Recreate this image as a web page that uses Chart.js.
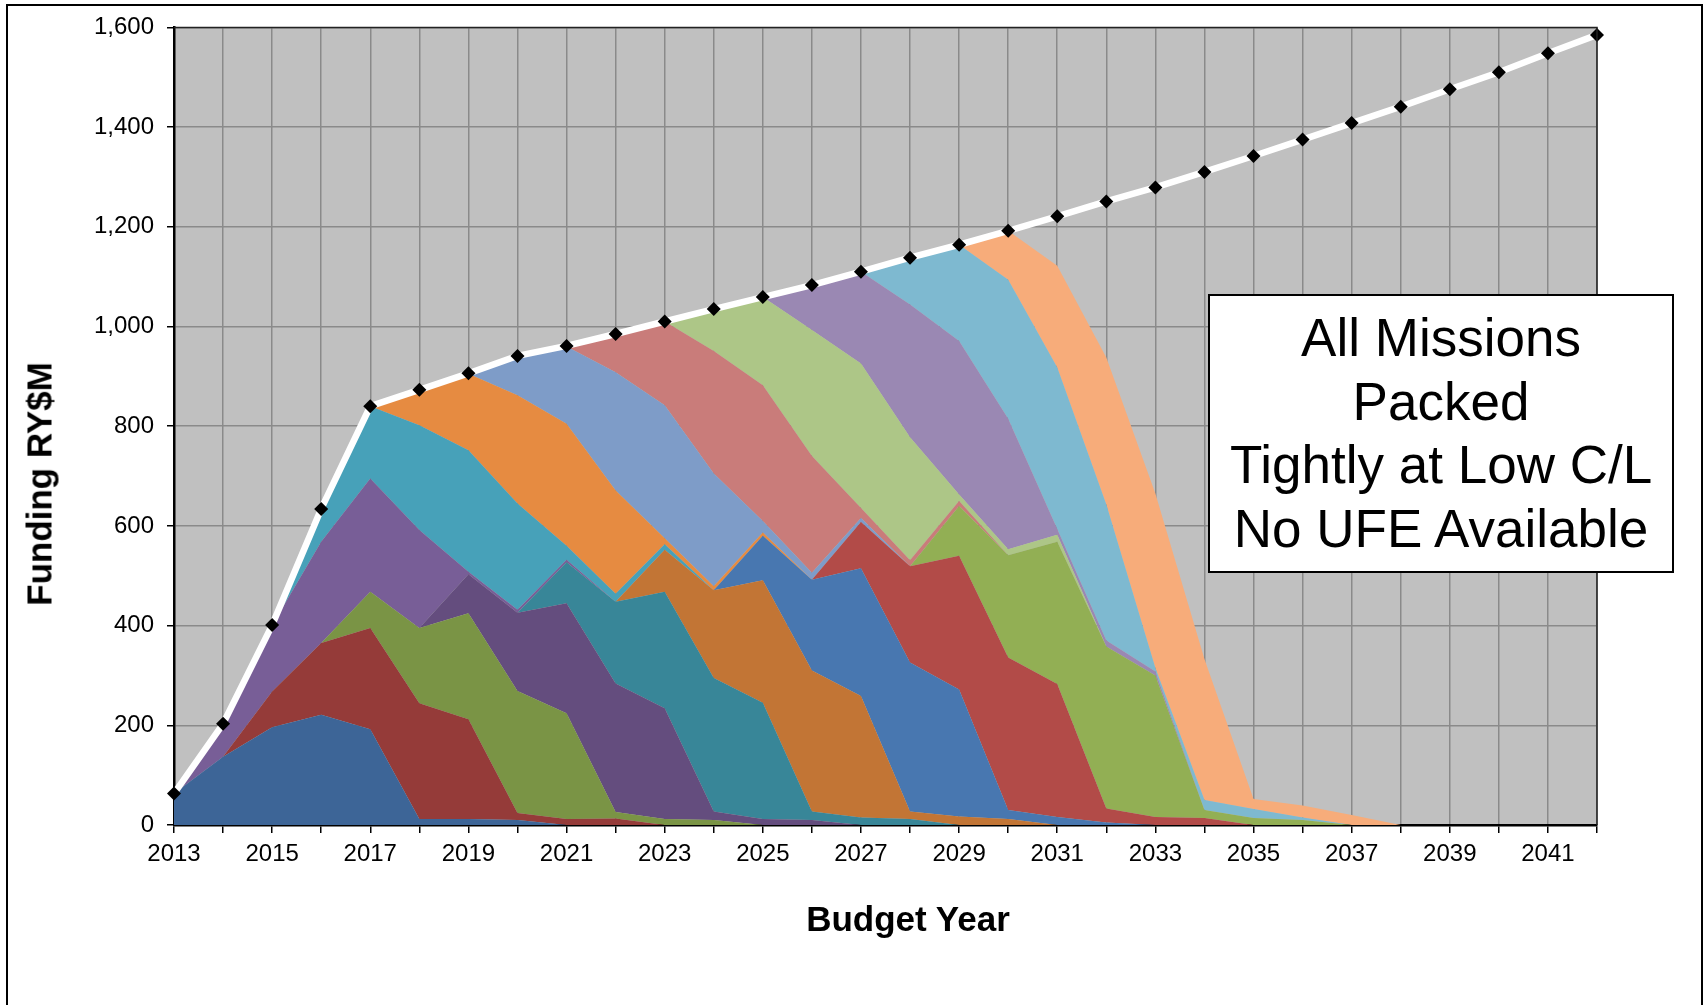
<!DOCTYPE html>
<html>
<head>
<meta charset="utf-8">
<title>Funding by Budget Year</title>
<script src="https://cdn.jsdelivr.net/npm/chart.js@4.4.1/dist/chart.umd.min.js"></script>
<style>
  html, body { margin: 0; padding: 0; width: 1705px; height: 1005px; overflow: hidden; background: #fff; }
  body { position: relative; font-family: "Liberation Sans", Arial, sans-serif; color: #000; }
  #frame { position: absolute; left: 6px; top: 4px; width: 1697px; height: 1100px; border: 2px solid #000; box-sizing: border-box; }
  #chart { position: absolute; left: 0; top: 0; }
  .axis-title { position: absolute; font-weight: bold; font-size: 35px; line-height: 35px; white-space: nowrap; }
  #xTitle { left: 908px; top: 901px; transform: translateX(-50%); }
  #yTitle { left: 39px; top: 484px; transform: translate(-50%, -50%) rotate(-90deg); }
  #note { position: absolute; left: 1208px; top: 294px; width: 466px; height: 279px; box-sizing: border-box;
          border: 2px solid #000; background: #fff; text-align: center; font-size: 53px; line-height: 63.5px; padding-top: 10px; }
</style>
</head>
<body>
<div id="frame"></div>
<canvas id="chart" width="1705" height="1005"></canvas>
<div class="axis-title" id="xTitle">Budget Year</div>
<div class="axis-title" id="yTitle">Funding RY$M</div>
<div id="note">All Missions<br>Packed<br>Tightly at Low C/L<br>No UFE Available</div>

<script>
// Budget years on the horizontal axis
const years = [];
for (let y = 2013; y <= 2042; y++) years.push(String(y));

// Funding ceiling per year (RY$M)
const budgetLine = [63, 203, 401, 634, 840, 873, 906, 941, 961, 985, 1010, 1035, 1059, 1083, 1110,
                    1138, 1164, 1192, 1221, 1251, 1279, 1310, 1342, 1375, 1408, 1441, 1476, 1510, 1548, 1585];

// Mission funding profiles, 2013..2042 (RY$M), listed bottom of the stack first
const mission01 = [63, 137, 196, 221, 192, 12, 12, 10, 0, 0, 0, 0, 0, 0, 0, 0, 0, 0, 0, 0, 0, 0, 0, 0, 0, 0, 0, 0, 0, 0];
const mission02 = [0, 0, 72, 144, 203, 232, 200, 14, 12, 13, 0, 0, 0, 0, 0, 0, 0, 0, 0, 0, 0, 0, 0, 0, 0, 0, 0, 0, 0, 0];
const mission03 = [0, 0, 0, 0, 73, 151, 213, 245, 212, 13, 12, 10, 0, 0, 0, 0, 0, 0, 0, 0, 0, 0, 0, 0, 0, 0, 0, 0, 0, 0];
const mission04 = [0, 0, 0, 0, 0, 0, 78, 157, 221, 258, 222, 17, 12, 10, 0, 0, 0, 0, 0, 0, 0, 0, 0, 0, 0, 0, 0, 0, 0, 0];
const mission05 = [0, 0, 0, 0, 0, 0, 0, 0, 82, 164, 234, 268, 233, 17, 15, 12, 0, 0, 0, 0, 0, 0, 0, 0, 0, 0, 0, 0, 0, 0];
const mission06 = [0, 0, 0, 0, 0, 0, 0, 0, 0, 0, 84, 176, 246, 283, 244, 15, 17, 12, 0, 0, 0, 0, 0, 0, 0, 0, 0, 0, 0, 0];
const mission07 = [0, 0, 0, 0, 0, 0, 0, 0, 0, 0, 0, 0, 89, 182, 256, 299, 255, 18, 16, 5, 0, 0, 0, 0, 0, 0, 0, 0, 0, 0];
const mission08 = [0, 0, 0, 0, 0, 0, 0, 0, 0, 0, 0, 0, 0, 0, 93, 193, 268, 306, 267, 28, 16, 14, 0, 0, 0, 0, 0, 0, 0, 0];
const mission09 = [0, 0, 0, 0, 0, 0, 0, 0, 0, 0, 0, 0, 0, 0, 0, 0, 100, 205, 285, 325, 284, 16, 14, 10, 0, 0, 0, 0, 0, 0];
const mission10 = [0, 63, 132, 203, 227, 197, 5, 6, 5, 0, 0, 0, 0, 0, 0, 0, 0, 0, 0, 0, 0, 0, 0, 0, 0, 0, 0, 0, 0, 0];
const mission11 = [0, 0, 0, 66, 145, 210, 244, 213, 28, 16, 11, 0, 0, 0, 0, 0, 0, 0, 0, 0, 0, 0, 0, 0, 0, 0, 0, 0, 0, 0];
const mission12 = [0, 0, 0, 0, 0, 70, 153, 217, 245, 207, 12, 8, 7, 0, 0, 0, 0, 0, 0, 0, 0, 0, 0, 0, 0, 0, 0, 0, 0, 0];
const mission13 = [0, 0, 0, 0, 0, 0, 0, 78, 155, 237, 267, 226, 23, 14, 8, 0, 0, 0, 0, 0, 0, 0, 0, 0, 0, 0, 0, 0, 0, 0];
const mission14 = [0, 0, 0, 0, 0, 0, 0, 0, 0, 77, 168, 246, 272, 234, 20, 12, 10, 0, 0, 0, 0, 0, 0, 0, 0, 0, 0, 0, 0, 0];
const mission15 = [0, 0, 0, 0, 0, 0, 0, 0, 0, 0, 0, 84, 177, 253, 290, 247, 13, 12, 14, 0, 0, 0, 0, 0, 0, 0, 0, 0, 0, 0];
const mission16 = [0, 0, 0, 0, 0, 0, 0, 0, 0, 0, 0, 0, 0, 90, 184, 266, 308, 262, 12, 12, 8, 0, 0, 0, 0, 0, 0, 0, 0, 0];
const mission17 = [0, 0, 0, 0, 0, 0, 0, 0, 0, 0, 0, 0, 0, 0, 0, 94, 193, 279, 324, 273, 7, 20, 18, 5, 0, 0, 0, 0, 0, 0];
const mission18 = [0, 0, 0, 0, 0, 0, 0, 0, 0, 0, 0, 0, 0, 0, 0, 0, 0, 98, 204, 295, 350, 283, 20, 24, 20, 0, 0, 0, 0, 0];

const missionSeries = [mission01, mission02, mission03, mission04, mission05, mission06, mission07, mission08, mission09,
                       mission10, mission11, mission12, mission13, mission14, mission15, mission16, mission17, mission18];
const missionColors = ['#3d6597', '#953b39', '#7a9445', '#644d7e', '#388698', '#c27535', '#4877b0', '#b24b48', '#92af54',
                       '#785e97', '#47a1b9', '#e68b41', '#7e9cc8', '#c97c7a', '#adc687', '#9a88b3', '#7eb9d0', '#f7ac7a'];

Chart.defaults.font.family = "'Liberation Sans', Arial, sans-serif";
Chart.defaults.color = '#000';

const datasets = missionSeries.map((values, i) => ({
  label: 'Mission ' + (i + 1),
  data: values,
  backgroundColor: missionColors[i],
  borderColor: missionColors[i],
  borderWidth: 0,
  pointRadius: 0,
  fill: i === 0 ? 'origin' : '-1',
  tension: 0,
  stack: 'missions'
}));

datasets.push({
  label: 'Budget',
  data: budgetLine,
  stack: 'budget',
  fill: false,
  borderColor: '#ffffff',
  borderWidth: 6.5,
  pointStyle: 'rectRot',
  pointRadius: 7,
  pointBackgroundColor: '#000',
  pointBorderColor: '#000',
  pointBorderWidth: 0,
  tension: 0,
  clip: false,
  order: -1
});

// Grey plot background and a dark frame round the plot area
const plotFrame = {
  id: 'plotFrame',
  beforeDraw(chart) {
    const { ctx, chartArea: a } = chart;
    ctx.save();
    ctx.fillStyle = '#c0c0c0';
    ctx.fillRect(a.left, a.top, a.right - a.left, a.bottom - a.top);
    ctx.restore();
  },
  afterDatasetsDraw(chart) {
    const { ctx, chartArea: a } = chart;
    ctx.save();
    ctx.strokeStyle = '#222';
    ctx.lineWidth = 1.5;
    ctx.beginPath();
    ctx.moveTo(a.left, a.top);
    ctx.lineTo(a.right, a.top);
    ctx.lineTo(a.right, a.bottom);
    ctx.stroke();
    ctx.restore();
  }
};

new Chart(document.getElementById('chart'), {
  type: 'line',
  data: { labels: years, datasets },
  plugins: [plotFrame],
  options: {
    responsive: false,
    animation: false,
    events: [],
    layout: { padding: { left: 0, top: 27, right: 108, bottom: 0 } },
    plugins: { legend: { display: false }, tooltip: { enabled: false } },
    scales: {
      x: {
        type: 'category',
        offset: false,
        afterFit(scale) { scale.height = 180; },
        grid: { color: '#8a8a8a', lineWidth: 1.5, tickColor: '#000', tickLength: 8, tickWidth: 1.5 },
        border: { color: '#000', width: 2.5 },
        ticks: {
          autoSkip: false,
          maxRotation: 0,
          padding: 7,
          font: { size: 24 },
          callback(value, index) { return index % 2 === 0 ? this.getLabelForValue(value) : ''; }
        }
      },
      y: {
        stacked: true,
        min: 0,
        max: 1600,
        afterFit(scale) { scale.width = 174; },
        grid: { color: '#8a8a8a', lineWidth: 1.5, tickColor: '#000', tickLength: 7, tickWidth: 1.5 },
        border: { color: '#000', width: 2.5 },
        ticks: { stepSize: 200, padding: 13, font: { size: 24 } }
      }
    }
  }
});
</script>
</body>
</html>
